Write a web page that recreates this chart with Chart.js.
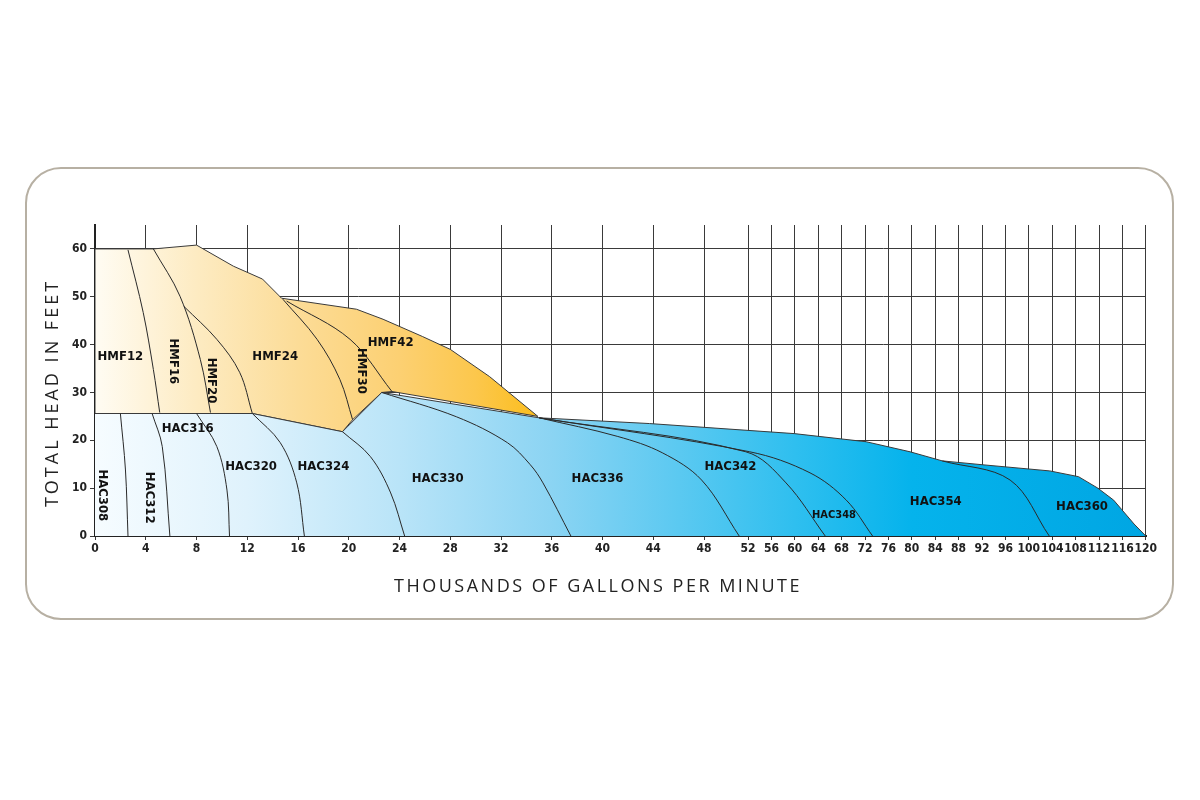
<!DOCTYPE html>
<html lang="en">
<head>
<meta charset="UTF-8">
<title>Pump Coverage Chart</title>
<script src="https://cdn.jsdelivr.net/npm/chart.js"></script>
<style>
    body { margin: 0; background: #fff; }
    .wrap { position: relative; width: 1200px; height: 800px; }
    .frame {
        position: absolute; left: 25px; top: 167px; width: 1145px; height: 449px;
        border: 2px solid #b7b0a3; border-radius: 36px;
    }
    canvas { position: absolute; left: 0; top: 0; }
</style>
</head>
<body>
<div class="wrap">
    <div class="frame"></div>
    <canvas id="pumpChart" width="1200" height="800"></canvas>
</div>
<script>
    // tick values (thousands gpm), axis is stretched up to 48 then compressed
    const xTicks = [0,4,8,12,16,20,24,28,32,36,40,44,48,52,56,60,64,68,72,76,80,84,88,92,96,100,104,108,112,116,120];
    const yTicks = [0,10,20,30,40,50,60];

    // outlines [gpm, ft]
    const blueTop = [[0,25.6],[12.4,25.6],[19.5,21.8],[22.6,30],[35,24.7],[43.7,23.5],[59.9,21.4],[72.2,19.7],
        [79.7,17.6],[85.2,15.7],[92,14.9],[103.6,13.6],[108.5,12.4],[111.8,10],[114.5,7.5],[115.9,5.5],[118,2.5],[120,0]];
    const yellowShape = [[0,25.6],[0,60],[4.6,60],[8,60.8],[10.9,56.4],[13.2,53.7],[14.7,49.7],[20.6,47.4],
        [22.7,45.3],[25.8,41.7],[28,39],[31.1,33.3],[34.9,25],[23.4,30.2],[22.6,30],[20.3,24.3],[19.5,21.8],[12.4,25.6],[0,25.6]];

    // boundary curves between pump models
    const dividers = [
        [[2.6,59.8],[3.8,46.7],[4.6,34.8],[5.1,25.8]],
        [[4.6,60],[6.7,50.1],[8.3,36.9],[9.1,25.8]],
        [[7,48],[9.6,41.1],[11.4,34.2],[12.4,25.6]],
        [[14.8,49.5],[17.5,41.1],[19.3,32.7],[20.3,24.3]],
        [[15.1,49.1],[20.1,41.1],[23.4,30.2]],
        [[2,25.6],[2.4,13.8],[2.6,0]],
        [[4.5,25.6],[5.3,18.7],[5.9,0]],
        [[8,25.6],[9.6,18.7],[10.4,9.6],[10.6,0]],
        [[12.4,25.6],[14.6,19.5],[15.9,11.1],[16.5,0]],
        [[19.5,21.8],[21.7,16.6],[23.3,9],[24.4,0]],
        [[22.6,30],[28.5,24.9],[32.5,19.5],[34.3,14.9],[35.3,11.1],[37.5,0]],
        [[35,24.7],[41.2,20.8],[44.7,17.4],[47.8,11.7],[51.2,0]],
        [[35,24.7],[51.8,17.6],[58.5,11.1],[65.2,0]],
        [[35,24.7],[52.3,17.6],[62.6,13.2],[68.8,7.5],[73.3,0]],
        [[85.2,15.7],[96.8,11.7],[103.5,0]]
    ];

    // model names: [label, gpm, ft, rotated, size]
    const models = [
        ['HMF12',2,37.5,false,13],['HMF16',6.2,36.5,true,13],['HMF20',9.2,32.5,true,13],['HMF24',14.2,37.5,false,13],
        ['HMF30',21,34.5,true,13],['HMF42',23.3,40.5,false,13],['HAC308',0.6,8.5,true,13],['HAC312',4.3,8,true,13],
        ['HAC316',7.3,22.5,false,13],['HAC320',12.3,14.5,false,13],['HAC324',18,14.5,false,13],['HAC330',27,12,false,13],
        ['HAC336',39.6,12,false,13],['HAC342',50.4,14.5,false,13],['HAC348',66.7,4.4,false,11],['HAC354',84.1,7.1,false,13],
        ['HAC360',109.1,6.1,false,13]
    ];

    const condensed = "'Liberation Sans Narrow', 'DejaVu Sans Condensed', sans-serif";

    function toU(v) {
        if (v <= 48) return v * 12.69;
        if (v <= 52) return 609 + (v - 48) * 11;
        return 653 + (v - 52) * 5.85;
    }
    const pts = arr => arr.map(p => ({x: toU(p[0]), y: p[1]}));

    function grad(ctx, stops) {
        const area = ctx.chart.chartArea;
        if (!area) return stops[0][1];
        const g = ctx.chart.ctx.createLinearGradient(area.left, 0, area.right, 0);
        stops.forEach(s => g.addColorStop(toU(s[0]) / 1051, s[1]));
        return g;
    }

    const datasets = [
        {
            data: pts(blueTop), fill: 'origin', order: 10, borderColor: '#3a3a3a', borderWidth: 1,
            backgroundColor: c => grad(c, [[0,'#f6fcff'],[12,'#dff2fc'],[24,'#b9e4f8'],[36,'#8bd4f3'],[60,'#2fbfef'],[80,'#05b3ec'],[120,'#00a6e3']])
        },
        {
            data: pts(yellowShape), fill: 'shape', order: 10, borderColor: '#3a3a3a', borderWidth: 1,
            backgroundColor: c => grad(c, [[0,'#fffcf3'],[8,'#fdebc2'],[16,'#fcdc97'],[24,'#fcd072'],[30,'#fcc74c'],[35,'#fbbd1c']])
        }
    ];
    dividers.forEach(d => datasets.push({
        data: pts(d), order: 1, borderColor: '#2a2a2a', borderWidth: 1, tension: 0.35, fill: false
    }));

    const labelPlugin = {
        id: 'labels',
        afterDatasetsDraw(chart) {
            const ctx = chart.ctx, xs = chart.scales.x, ys = chart.scales.y;
            ctx.save();
            ctx.fillStyle = '#111';
            ctx.textAlign = 'center';
            ctx.textBaseline = 'middle';
            models.forEach(m => {
                const px = xs.getPixelForValue(toU(m[1])), py = ys.getPixelForValue(m[2]);
                ctx.font = 'bold ' + m[4] + 'px ' + condensed;
                ctx.save();
                ctx.translate(px, py);
                if (m[3]) ctx.rotate(Math.PI / 2);
                ctx.fillText(m[0], 0, 0);
                ctx.restore();
            });
            // axis titles
            ctx.fillStyle = '#222';
            ctx.font = "18px 'Open Sans', sans-serif";
            ctx.letterSpacing = '2.5px';
            ctx.fillText('THOUSANDS OF GALLONS PER MINUTE', 598, 587);
            ctx.save();
            ctx.translate(53, 393);
            ctx.rotate(-Math.PI / 2);
            ctx.letterSpacing = '3px';
            ctx.fillText('TOTAL HEAD IN FEET', 0, 0);
            ctx.restore();
            ctx.restore();
        }
    };

    new Chart(document.getElementById('pumpChart'), {
        type: 'scatter',
        data: { datasets: datasets },
        options: {
            responsive: false,
            animation: false,
            showLine: true,
            elements: { point: { radius: 0 } },
            layout: { padding: { left: 0, right: 54, top: 225, bottom: 0 } },
            plugins: { legend: { display: false }, tooltip: { enabled: false } },
            scales: {
                x: {
                    type: 'linear', min: 0, max: 1051,
                    afterFit: s => { s.height = 264; },
                    afterBuildTicks: s => { s.ticks = xTicks.map(v => ({value: toU(v)})); },
                    ticks: {
                        autoSkip: false, maxRotation: 0, padding: 2, color: '#222',
                        font: { family: condensed, weight: 'bold', size: 12 },
                        callback: (val, i) => xTicks[i]
                    },
                    grid: { color: '#3a3a3a', lineWidth: 1, tickLength: 4 },
                    border: { color: '#222', width: 2 }
                },
                y: {
                    min: 0, max: 65,
                    afterFit: s => { s.width = 95; },
                    afterBuildTicks: s => { s.ticks = yTicks.map(v => ({value: v})); },
                    ticks: {
                        padding: 3, color: '#222',
                        font: { family: condensed, weight: 'bold', size: 12 }
                    },
                    grid: { color: '#3a3a3a', lineWidth: 1, tickLength: 5 },
                    border: { color: '#222', width: 2 }
                }
            }
        },
        plugins: [labelPlugin]
    });
</script>
</body>
</html>
